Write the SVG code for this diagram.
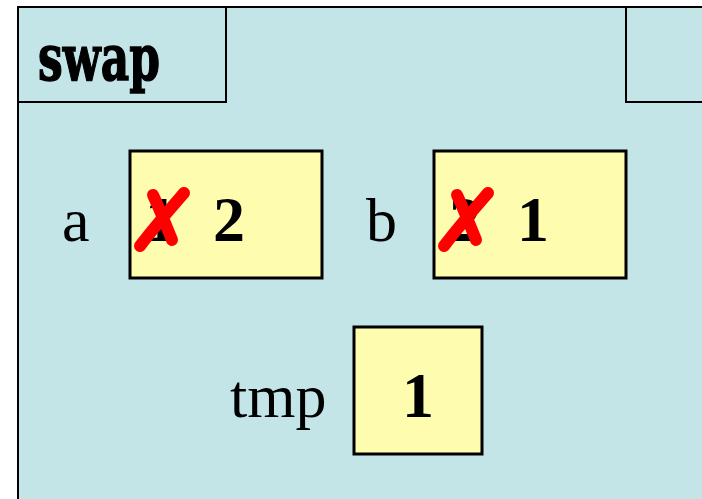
<svg xmlns="http://www.w3.org/2000/svg" width="702" height="499" viewBox="0 0 702 499">
<style>
.frame{fill:#c4e5e8;stroke:#000;stroke-width:2}
.box{fill:#fefcae;stroke:#000;stroke-width:3}
.lbl{font-family:"Liberation Serif",serif;font-size:62px;fill:#000}
.num{font-family:"Liberation Serif",serif;font-size:64px;font-weight:bold;fill:#000}
.x{stroke:#ff0000;stroke-width:12;stroke-linecap:round;fill:none}
</style>
<rect width="702" height="499" fill="#ffffff"/>
<g id="frame">
<rect class="frame" x="18" y="7" width="700" height="510"/>
<rect class="frame" x="18" y="7" width="208" height="95"/>
<rect class="frame" x="626" y="7" width="90" height="95"/>
<text transform="translate(38,80) scale(1,1.45)" font-family="DejaVu Serif,serif" font-weight="bold" font-size="44" fill="#000" stroke="#000" stroke-width="1">swap</text>
</g>
<g id="var-a">
<text class="lbl" x="62" y="241">a</text>
<rect class="box" x="130" y="151" width="192" height="127"/>
<text class="num" x="145" y="241">1</text>
<text class="num" x="213" y="241">2</text>
<path class="x" d="M140,246 C156,225 171,208 184,193 M153,195 C160,210 166,225 172,240"/>
</g>
<g id="var-b">
<text class="lbl" x="366" y="241">b</text>
<rect class="box" x="434" y="151" width="192" height="127"/>
<text class="num" x="449" y="241">2</text>
<text class="num" x="517" y="241">1</text>
<path class="x" d="M444,246 C460,225 475,208 488,193 M457,195 C464,210 470,225 476,240"/>
</g>
<g id="var-tmp">
<text class="lbl" x="230" y="417">tmp</text>
<rect class="box" x="354" y="327" width="128" height="127"/>
<text class="num" x="402" y="417">1</text>
</g>
<g id="connectors"></g>
</svg>
